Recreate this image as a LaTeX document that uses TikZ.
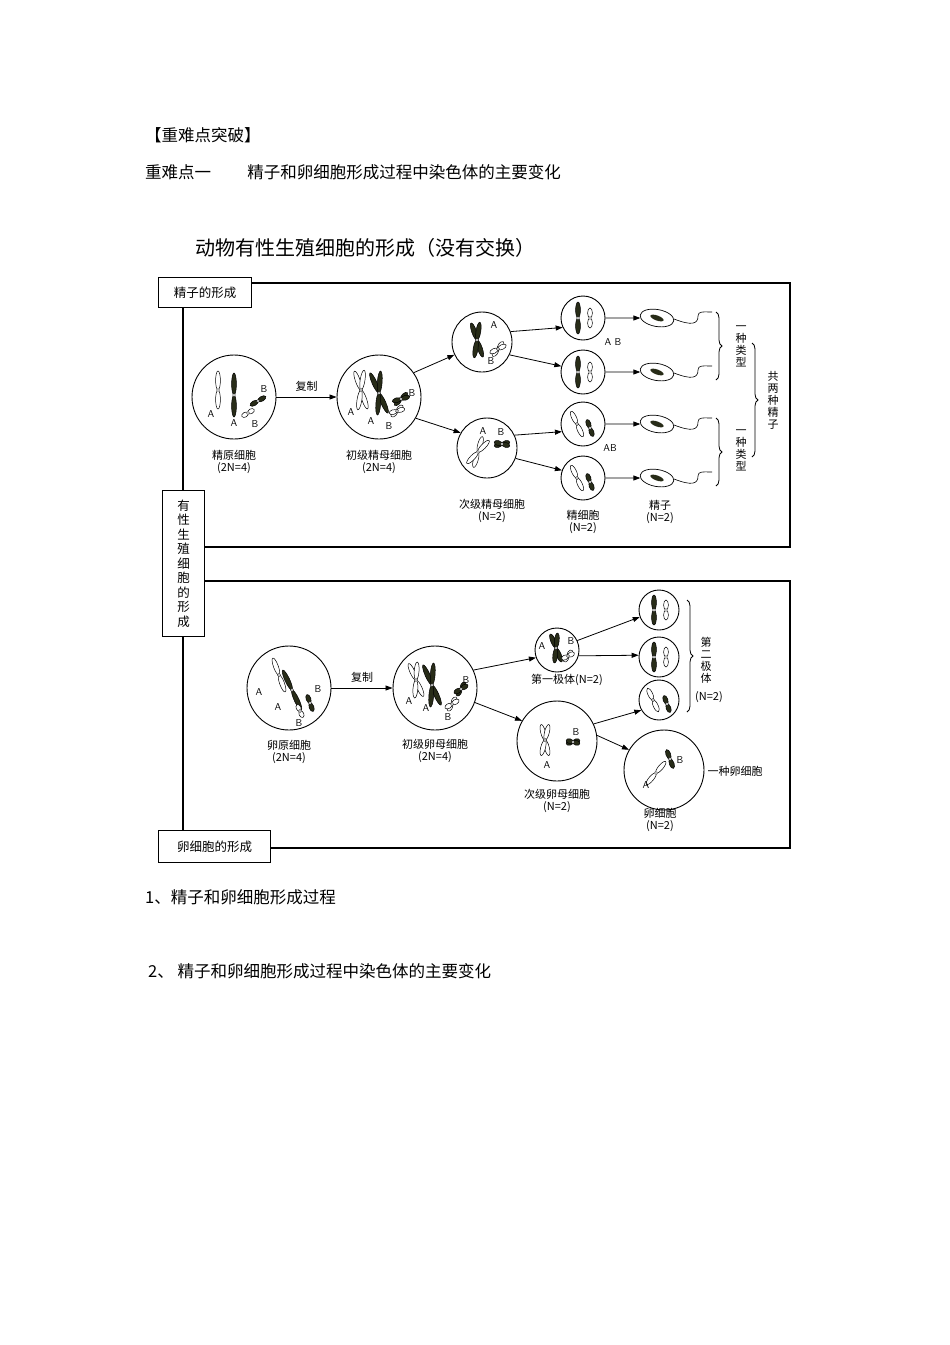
\documentclass[tikz,border=0pt]{standalone}
\usepackage{fontspec}
\setmainfont{Noto Sans CJK SC}
\usetikzlibrary{arrows.meta,decorations.pathreplacing,shapes.geometric}
\tikzset{
 cell/.style={circle,draw,line width=0.9pt,inner sep=0pt},
 arr/.style={-{Triangle[length=7pt,width=5pt]},line width=0.8pt},
 lbl/.style={font=\fontsize{11}{12}\selectfont,inner sep=0pt,align=center},
 al/.style={font=\fontsize{10}{10}\selectfont\sffamily,inner sep=0pt},
 frame/.style={line width=1.4pt},
 tbox/.style={draw,line width=1.4pt,fill=white,font=\fontsize{12.5}{14}\selectfont,inner sep=4pt},
 br/.style={decorate,decoration={brace,amplitude=6pt},line width=0.8pt},
 vt/.style={font=\fontsize{11}{12}\selectfont,align=center,inner sep=0pt},
 hd/.style={anchor=west,font=\fontsize{16.5}{18}\selectfont,inner sep=0pt}
}
\definecolor{dk}{RGB}{40,44,24}
\newcommand\chr[5]{\begin{scope}[shift={(#1,#2)},rotate=#3]
 \draw[fill=#5,line width=0.5pt] (0,-#4/2) ellipse (2.4 and #4/2);
 \draw[fill=#5,line width=0.5pt] (0,#4/2) ellipse (2.4 and #4/2);
 \fill[white] (0,0) circle (1.5);\draw[line width=0.3pt] (0,0) circle (1.5);
 \end{scope}}
\newcommand\dchr[5]{\chr{#1}{#2}{#3+14}{#4}{#5}\chr{#1}{#2}{#3-14}{#4}{#5}}
\begin{document}
\begin{tikzpicture}[x=1pt,y=-1pt]
\path[use as bounding box,fill=white] (0,0) rectangle (950,1345);
\node[hd] (h1) at (145,135) {【重难点突破】};
\node[hd] (h2) at (145,172) {重难点一\hspace{2.2em}精子和卵细胞形成过程中染色体的主要变化};
\node[hd,font=\fontsize{20}{22}\selectfont] (tt) at (195,248) {动物有性生殖细胞的形成（没有交换）};
\draw[frame] (251,283) -- (790,283) -- (790,547) -- (204,547);
\draw[frame] (204,581) -- (790,581) -- (790,848) -- (270,848);
\draw[frame] (183,300) -- (183,835);
\node[tbox,anchor=north west,minimum width=93pt,minimum height=30pt] (bx1) at (158,277) {精子的形成};
\node[tbox,anchor=north west,minimum width=42pt,minimum height=146pt,font=\fontsize{12.5}{14.5}\selectfont,align=center] (bx2) at (162,490) {有\\性\\生\\殖\\细\\胞\\的\\形\\成};
\node[tbox,anchor=north west,minimum width=112pt,minimum height=32pt] (bx3) at (158,830) {卵细胞的形成};
\node[cell,minimum size=84pt] (p1) at (234,397) {};
\node[cell,minimum size=84pt] (p2) at (379,397) {};
\node[cell,minimum size=60pt] (s1) at (482,342) {};
\node[cell,minimum size=60pt] (s2) at (487,448) {};
\node[cell,minimum size=44pt] (t1) at (583,318) {};
\node[cell,minimum size=44pt] (t2) at (583,372) {};
\node[cell,minimum size=44pt] (t3) at (583,424) {};
\node[cell,minimum size=44pt] (t4) at (583,478) {};
\chr{218}{390}{0}{19}{white}\chr{234}{395}{0}{22}{dk}\chr{258}{401}{-60}{9}{dk}\chr{248}{413}{-60}{7}{white}
\node[al] at (211,414){A};\node[al] at (234,423){A};\node[al] at (264,389){B};\node[al] at (255,424){B};
\dchr{361}{390}{5}{20}{white}\dchr{379}{393}{10}{22}{dk}\dchr{401}{399}{-60}{9}{dk}\dchr{397}{411}{-60}{8}{white}
\node[al] at (351,412){A};\node[al] at (371,421){A};\node[al] at (412,393){B};\node[al] at (389,426){B};
\dchr{477}{340}{5}{18}{dk}\dchr{498}{349}{-50}{9}{white}
\node[al] at (494,325){A};\node[al] at (491,361){B};
\dchr{478}{452}{-30}{16}{white}\dchr{502}{444}{90}{8}{dk}
\node[al] at (483,431){A};\node[al] at (501,432){B};
\chr{578}{318}{0}{16}{dk}\chr{590}{318}{0}{10}{white}
\chr{578}{372}{0}{16}{dk}\chr{590}{372}{0}{10}{white}
\chr{577}{424}{25}{14}{white}\chr{590}{428}{20}{9}{dk}
\chr{577}{478}{25}{14}{white}\chr{590}{482}{20}{9}{dk}
\node[al] at (613,342){A B};\node[al] at (610,448){AB};
\foreach \y/\n in {318/m1,372/m2,424/m3,478/m4}{
 \node[draw,ellipse,minimum width=34pt,minimum height=17pt,inner sep=0pt,line width=0.7pt,rotate=-10] (\n) at (657,\y) {};
 \fill[dk,rotate around={-20:(657,\y)}] (657,\y) ellipse (7 and 2.5);
 \draw[line width=0.6pt] (674,\y+1) .. controls (692,\y+8) and (698,\y+6) .. (698,\y-2) .. controls (698,\y-7) and (703,\y-6) .. (712,\y-6);}
\draw[arr] (p1) -- node[lbl,above=5pt]{复制} (p2);
\draw[arr] (p2.35) -- (s1.205);
\draw[arr] (p2.-30) -- (s2.150);
\draw[arr] (s1.20) -- (t1.205);
\draw[arr] (s1.-25) -- (t2.165);
\draw[arr] (s2.25) -- (t3.200);
\draw[arr] (s2.-20) -- (t4.160);
\foreach \a/\b in {t1/m1,t2/m2,t3/m3,t4/m4}{\draw[arr] (\a) -- (\b);}
\node[lbl] (l1) at (234,462){精原细胞\\(2N=4)};
\node[lbl] (l2) at (379,462){初级精母细胞\\(2N=4)};
\node[lbl] (l3) at (492,511){次级精母细胞\\(N=2)};
\node[lbl] (l4) at (583,522){精细胞\\(N=2)};
\node[lbl] (l5) at (660,512){精子\\(N=2)};
\draw[br] (716,312) -- (716,380);
\draw[br] (716,418) -- (716,486);
\draw[br] (752,343) -- (752,457);
\node[vt] (v1) at (741,346){一\\种\\类\\型};
\node[vt] (v2) at (741,450){一\\种\\类\\型};
\node[vt] (v3) at (773,400){共\\两\\种\\精\\子};
\node[cell,minimum size=84pt] (o1) at (289,688) {};
\node[cell,minimum size=84pt] (o2) at (435,688) {};
\node[cell,minimum size=44pt] (q1) at (557,650) {};
\node[cell,minimum size=80pt] (q2) at (557,741) {};
\node[cell,minimum size=40pt] (r1) at (659,610) {};
\node[cell,minimum size=40pt] (r2) at (659,657) {};
\node[cell,minimum size=40pt] (r3) at (659,700) {};
\node[cell,minimum size=80pt] (eg) at (664,770) {};
\chr{279}{675}{20}{18}{white}\chr{292}{690}{25}{22}{dk}\chr{310}{703}{20}{9}{dk}\chr{300}{711}{25}{7}{white}
\node[al] at (259,692){A};\node[al] at (278,707){A};\node[al] at (318,689){B};\node[al] at (299,723){B};
\dchr{416}{680}{10}{18}{white}\dchr{432}{685}{10}{22}{dk}\dchr{461}{689}{-45}{8}{dk}\dchr{452}{704}{-45}{8}{white}
\node[al] at (409,701){A};\node[al] at (426,708){A};\node[al] at (466,680){B};\node[al] at (448,717){B};
\dchr{556}{648}{8}{15}{dk}\dchr{568}{656}{-50}{7}{white}
\node[al] at (542,646){A};\node[al] at (571,641){B};
\dchr{545}{740}{0}{16}{white}\dchr{573}{742}{90}{7}{dk}
\node[al] at (547,765){A};\node[al] at (576,732){B};
\chr{654}{610}{0}{15}{dk}\chr{666}{610}{0}{10}{white}
\chr{654}{657}{0}{15}{dk}\chr{666}{657}{0}{10}{white}
\chr{653}{700}{25}{13}{white}\chr{667}{704}{20}{9}{dk}
\chr{656}{773}{-40}{15}{white}\chr{670}{759}{20}{10}{dk}
\node[al] at (646,785){A};\node[al] at (680,760){B};
\draw[arr] (o1) -- node[lbl,above=5pt]{复制} (o2);
\draw[arr] (o2.25) -- (q1.200);
\draw[arr] (o2.-20) -- (q2.150);
\draw[arr] (q1.25) -- (r1.200);
\draw[arr] (q1.-15) -- (r2.175);
\draw[arr] (q2.25) -- (r3.210);
\draw[arr] (q2.8) -- (eg.150);
\node[lbl] (k1) at (289,752){卵原细胞\\(2N=4)};
\node[lbl] (k2) at (435,751){初级卵母细胞\\(2N=4)};
\node[lbl] (k3) at (567,680){第一极体(N=2)};
\node[lbl] (k4) at (557,801){次级卵母细胞\\(N=2)};
\node[lbl] (k5) at (660,820){卵细胞\\(N=2)};
\node[lbl] (k6) at (735,771){一种卵细胞};
\draw[br] (687,600) -- (687,712);
\node[vt] (v4) at (706,660){第\\二\\极\\体};
\node[lbl] (v5) at (709,697){(N=2)};
\node[hd] (f1) at (145,897) {1、精子和卵细胞形成过程};
\node[hd] (f2) at (148,971) {2、 精子和卵细胞形成过程中染色体的主要变化};
\end{tikzpicture}
\end{document}
